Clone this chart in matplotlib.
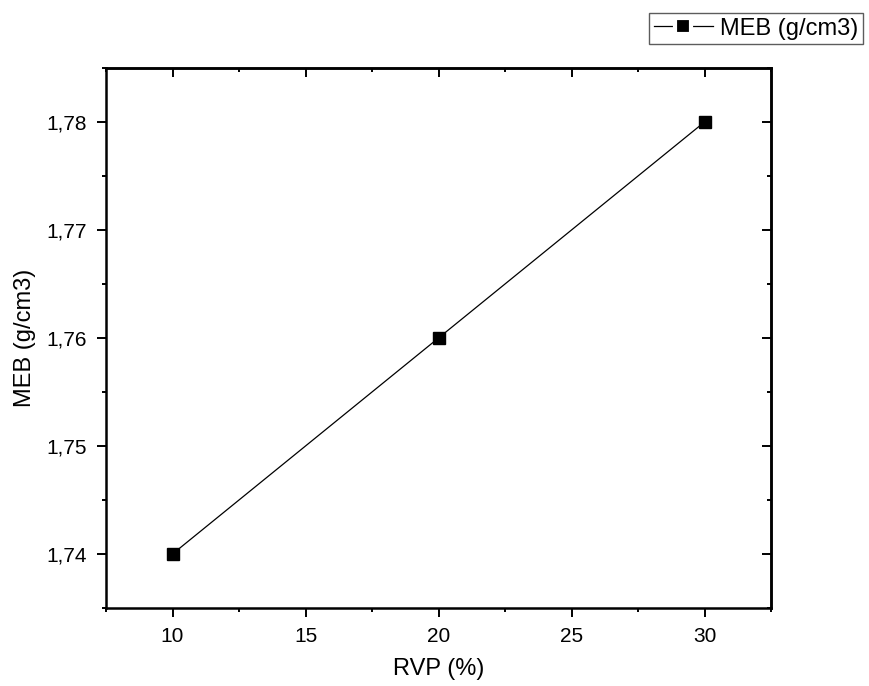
import matplotlib
matplotlib.use("Agg")
import matplotlib.pyplot as plt
from matplotlib.lines import Line2D
from matplotlib.ticker import MultipleLocator, FuncFormatter

rvp = [10, 20, 30]
meb = [1.74, 1.76, 1.78]
x_label = "RVP (%)"
y_label = "MEB (g/cm3)"
series_label = "MEB (g/cm3)"

plt.rcParams['font.family'] = ['Liberation Sans', 'DejaVu Sans']

fig = plt.figure(figsize=(8.69, 6.86), dpi=100)
ax = fig.add_axes([106/869, 1-608/686, (771-106)/869, (608-68)/686])

ax.plot(rvp, meb, color='black', lw=0.9, marker='s', markersize=8.5,
        markerfacecolor='black', markeredgecolor='black', label=series_label)

ax.set_xlim(7.5, 32.5)
ax.set_ylim(1.735, 1.785)
ax.xaxis.set_major_locator(MultipleLocator(5))
ax.xaxis.set_minor_locator(MultipleLocator(2.5))
ax.yaxis.set_major_locator(MultipleLocator(0.01))
ax.yaxis.set_minor_locator(MultipleLocator(0.005))
ax.yaxis.set_major_formatter(FuncFormatter(lambda v, p: f"{v:.2f}".replace('.', ',')))
ax.xaxis.set_major_formatter(FuncFormatter(lambda v, p: f"{v:.0f}"))

SW = 1.8
TW = 1.4
for s in ax.spines.values():
    s.set_linewidth(SW)

ax.tick_params(which='both', direction='out', top=False, right=False, labelsize=15, width=TW)
ax.tick_params(which='major', length=6.5)
ax.tick_params(axis='x', which='major', pad=7)
ax.tick_params(axis='y', which='major', pad=7)
ax.tick_params(which='minor', length=3.2)

# mirrored inward ticks on top and right
axt = ax.secondary_xaxis('top')
axt.xaxis.set_major_locator(MultipleLocator(5))
axt.xaxis.set_minor_locator(MultipleLocator(2.5))
axt.tick_params(which='both', direction='in', labeltop=False, width=TW)
axt.tick_params(which='major', length=6.5)
axt.tick_params(which='minor', length=3.2)
axt.spines['top'].set_linewidth(SW)
axr = ax.secondary_yaxis('right')
axr.yaxis.set_major_locator(MultipleLocator(0.01))
axr.yaxis.set_minor_locator(MultipleLocator(0.005))
axr.tick_params(which='both', direction='in', labelright=False, width=TW)
axr.tick_params(which='major', length=6.5)
axr.tick_params(which='minor', length=3.2)
axr.spines['right'].set_linewidth(SW)

ax.set_xlabel(x_label, fontsize=17, labelpad=9)
ax.set_ylabel(y_label, fontsize=17, labelpad=8)

proxy = Line2D([], [], color='black', lw=0.9, marker='s', markersize=11.5,
               markerfacecolor='black', markeredgecolor='white', markeredgewidth=3)
leg = fig.legend([proxy], [series_label], loc='upper right',
                 bbox_to_anchor=(863/869, 1-13/686), fontsize=17,
                 fancybox=False, frameon=True, edgecolor='#333333', handlelength=2.5,
                 borderpad=0.2, handletextpad=0.3, borderaxespad=0)
leg.get_frame().set_linewidth(1.0)

fig.savefig("out.png", dpi=100)
